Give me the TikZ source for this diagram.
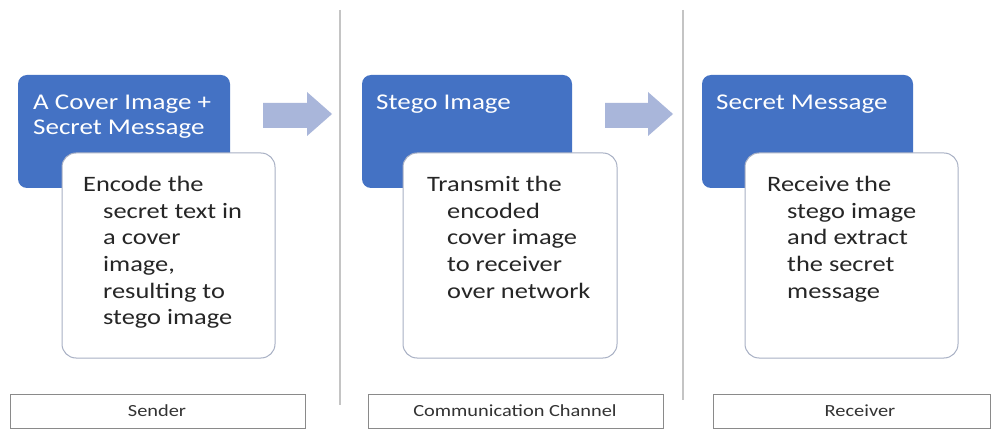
\documentclass[tikz,border=0pt]{standalone}
\usepackage{fontspec}
\setmainfont{Carlito}
\newfontfamily\widefont[FakeStretch=1.2]{Carlito}
\usetikzlibrary{positioning}
\definecolor{boxblue}{HTML}{4472C4}
\definecolor{arrowc}{HTML}{A9B6DA}
\definecolor{wborder}{HTML}{A8B0C4}
\definecolor{sepgray}{HTML}{C4C4C4}
\definecolor{labgray}{HTML}{8A8A8A}
\tikzset{
  bluebox/.style={fill=boxblue, draw=none, rounded corners=9pt},
  whitebox/.style={fill=white, draw=wborder, line width=1pt, rounded corners=14pt},
  bluetext/.style={inner sep=0pt, anchor=north west, align=left, text=white,
     font=\widefont\fontsize{22.5pt}{25pt}\selectfont},
  bodytext/.style={inner sep=0pt, anchor=north west, align=left, text=black!85,
     font=\widefont\fontsize{22pt}{26.7pt}\selectfont},
  labbox/.style={draw=labgray, line width=0.9pt, fill=white},
  labtext/.style={inner sep=0pt, text=black!80, font=\widefont\fontsize{17pt}{20pt}\selectfont},
  blockarrow/.style={fill=arrowc, draw=none},
  sepline/.style={draw=sepgray, line width=1.5pt}
}
\begin{document}
\begin{tikzpicture}[x=1pt,y=-1pt]
\useasboundingbox[fill=white] (0,0) rectangle (996,430);
% separators
\draw[sepline] (340,10) -- (340,405);
\draw[sepline] (683,10) -- (683,400);
% column 1
\fill[bluebox] (18,75) rectangle (230,188);
\node[bluetext] (t1) at (33,95) {A Cover Image +\\Secret Message};
\draw[whitebox] (62,153) rectangle (275,358);
\node[bodytext] (b1) at (83,176) {Encode the\\\hspace*{20pt}secret text in\\\hspace*{20pt}a cover\\\hspace*{20pt}image,\\\hspace*{20pt}resulting to\\\hspace*{20pt}stego image};
% arrow 1
\fill[blockarrow] (263,103) -- (307,103) -- (307,92) -- (332,114) -- (307,136) -- (307,128) -- (263,128) -- cycle;
% column 2
\fill[bluebox] (362,75) rectangle (572,188);
\node[bluetext] (t2) at (376,95) {Stego Image};
\draw[whitebox] (403,153) rectangle (617,358);
\node[bodytext] (b2) at (427,176) {Transmit the\\\hspace*{20pt}encoded\\\hspace*{20pt}cover image\\\hspace*{20pt}to receiver\\\hspace*{20pt}over network};
% arrow 2
\fill[blockarrow] (605,103) -- (648,103) -- (648,92) -- (673,114) -- (648,136) -- (648,128) -- (605,128) -- cycle;
% column 3
\fill[bluebox] (702,75) rectangle (913,188);
\node[bluetext] (t3) at (716,95) {Secret Message};
\draw[whitebox] (745,153) rectangle (958,358);
\node[bodytext] (b3) at (767,176) {Receive the\\\hspace*{20pt}stego image\\\hspace*{20pt}and extract\\\hspace*{20pt}the secret\\\hspace*{20pt}message};
% bottom labels
\draw[labbox] (10,394) rectangle (305,428);
\node[labtext] (l1) at (157,411) {Sender};
\draw[labbox] (368,394) rectangle (663,428);
\node[labtext] (l2) at (515,411) {Communication Channel};
\draw[labbox] (713,394) rectangle (990,428);
\node[labtext] (l3) at (860,411) {Receiver};
\end{tikzpicture}
\end{document}
